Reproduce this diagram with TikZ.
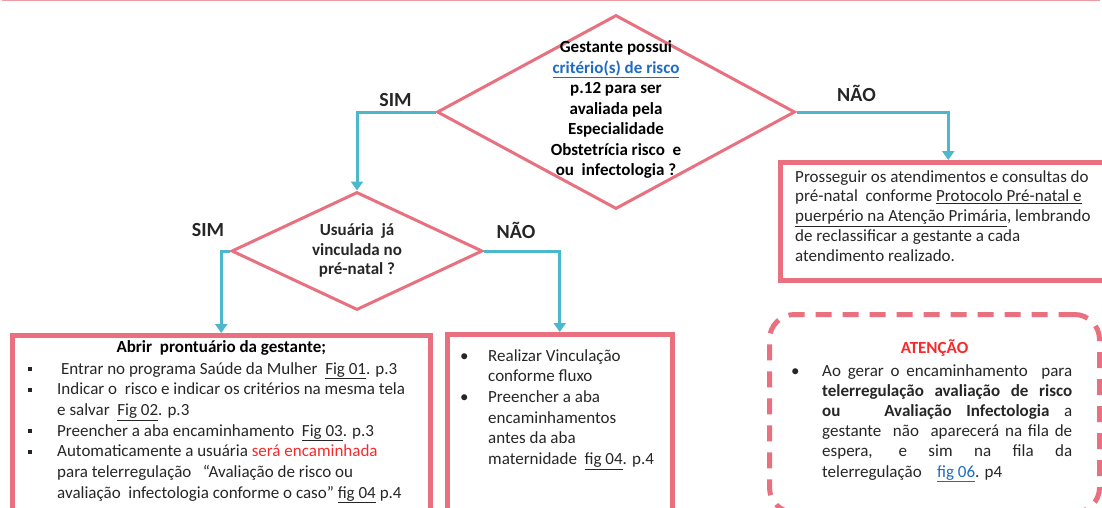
\documentclass[tikz,border=0pt]{standalone}
\usepackage{fontspec}
\setmainfont{Carlito}
\usepackage{xcolor}
\usepackage{tikz}
\usetikzlibrary{calc, shapes.geometric, arrows.meta}
\definecolor{rosa}{HTML}{E8707F}
\definecolor{ciano}{HTML}{4BB8CC}
\definecolor{vermelho}{HTML}{F52A2A}
\definecolor{azul}{HTML}{1F6BC4}
\definecolor{texto}{HTML}{262626}
\newcommand{\lnk}[1]{\textcolor{azul}{\underline{#1}}}
\newcommand{\sqb}{\raisebox{3pt}{\rule{4pt}{4pt}}}
\newcommand{\jline}[1]{\makebox[250pt][s]{#1}}
\tikzstyle{decision} = [diamond, draw=rosa, line width=3pt, inner sep=0pt]
\tikzstyle{box}      = [rectangle, draw=rosa, line width=4.5pt, inner sep=0pt, anchor=north west]
\tikzstyle{alert}    = [rectangle, draw=rosa, line width=5pt, rounded corners=25pt, dash pattern=on 16pt off 11pt, inner sep=0pt, anchor=north west]
\tikzstyle{arrow}    = [ciano, line width=3pt, -{Triangle[width=12pt,length=9pt]}]
\tikzstyle{answer}   = [font=\bfseries\fontsize{20}{24}\selectfont, text=black!85, inner sep=0pt]
\tikzstyle{question} = [font=\bfseries\fontsize{17}{20.5}\selectfont, align=flush center, text width=220pt, inner sep=0pt, anchor=base]
\tikzstyle{head}     = [font=\bfseries\fontsize{17}{20.5}\selectfont, inner sep=0pt, anchor=base]
\tikzstyle{body}     = [font=\fontsize{17}{20.7}\selectfont, text=texto, align=flush left, text width=300pt, inner sep=0pt, anchor=base west]

\begin{document}
\begin{tikzpicture}[x=1pt, y=-1pt]
    \clip (0,0) rectangle (1102,507);
    \draw [rosa!70, line width=2pt] (2,0) -- (1100,0);

    \node (crit)     [decision, minimum width=358pt, minimum height=194pt] at (616,112) {};
    \node (vinc)     [decision, minimum width=251pt, minimum height=118pt] at (357,251) {};
    \node (seguir)   [box, minimum width=336pt, minimum height=118pt] at (778,160) {};
    \node (abrir)    [box, minimum width=418pt, minimum height=190pt] at (10,333) {};
    \node (vincular) [box, minimum width=225pt, minimum height=190pt] at (445,332) {};
    \node (atencao)  [alert, minimum width=330pt, minimum height=198pt] at (767,312) {};

    \draw [arrow] (crit.west) -| (vinc.north);
    \draw [arrow] (crit.east) -| (seguir.north);
    \draw [arrow] (vinc.west) -| (abrir.north);
    \draw [arrow] (vinc.east) -| (vincular.north);

    \node (sim1) [answer] at ($(crit.west)+(-40,-12)$) {SIM};
    \node (nao1) [answer] at ($(crit.east)+(60,-19)$) {NÃO};
    \node (sim2) [answer] at ($(vinc.west)+(-22,-21)$) {SIM};
    \node (nao2) [answer] at ($(vinc.east)+(32,-21)$) {NÃO};

    \node (crittxt) [question] at ($(crit.north)+(0,39)$) {Gestante possui\\ \lnk{critério(s) de risco}\\ p.12 para ser\\ avaliada pela\\ Especialidade\\ Obstetrícia risco~ e\\ ou~ infectologia ?};
    \node (vinctxt) [question, font=\fontsize{17}{19.5}\selectfont\bfseries, text=texto] at ($(vinc.north)+(0,45)$) {Usuária~ já\\ vinculada no\\ pré-natal ?};

    \node (seguirtxt) [body, text width=315pt, font=\fontsize{17}{19.8}\selectfont] at ($(seguir.north west)+(17,22)$) {Prosseguir os atendimentos e consultas do\\ pré-natal~ conforme \underline{Protocolo Pré-natal e}\\ \underline{puerpério na Atenção Primária}, lembrando\\ de reclassificar a gestante a cada\\ atendimento realizado.};

    \node (abrirtit) [head] at ($(abrir.north)+(0,19)$) {Abrir~ prontuário da gestante;};
    \node (abrirtxt) [body, text width=405pt] at ($(abrir.north west)+(18,41)$) {\makebox[29pt][l]{\sqb}~Entrar no programa Saúde da Mulher~ \underline{Fig 01}. p.3\\ \makebox[29pt][l]{\sqb}Indicar o~ risco e indicar os critérios na mesma tela\\ \hspace*{29pt}e salvar~ \underline{Fig 02}. p.3\\ \makebox[29pt][l]{\sqb}Preencher a aba encaminhamento~ \underline{Fig 03}. p.3\\ \makebox[29pt][l]{\sqb}Automaticamente a usuária \textcolor{vermelho}{será encaminhada}\\ \hspace*{29pt}para telerregulação~~ “Avaliação de risco ou\\ \hspace*{29pt}avaliação~ infectologia conforme o caso” \underline{fig 04} p.4};

    \node (vinculartxt) [body, text width=210pt] at ($(vincular.north west)+(15,29)$) {\makebox[28pt][l]{\textbullet}Realizar Vinculação\\ \hspace*{28pt}conforme fluxo\\ \makebox[28pt][l]{\textbullet}Preencher a aba\\ \hspace*{28pt}encaminhamentos\\ \hspace*{28pt}antes da aba\\ \hspace*{28pt}maternidade~ \underline{fig 04}. p.4};

    \node (atencaotit) [head, text=vermelho] at ($(atencao.north)+(0,41)$) {ATENÇÃO};
    \node (atencaotxt) [body, text width=300pt, font=\fontsize{17}{20.2}\selectfont] at ($(atencao.north west)+(24,64)$) {\makebox[31pt][l]{\textbullet}\jline{Ao gerar o encaminhamento~ para}\\ \hspace*{31pt}\jline{\textbf{telerregulação avaliação de risco}}\\ \hspace*{31pt}\jline{\textbf{ou~~ Avaliação Infectologia} a}\\ \hspace*{31pt}\jline{gestante~ não~ aparecerá na fila de}\\ \hspace*{31pt}\jline{espera, e sim na fila da}\\ \hspace*{31pt}telerregulação~~~ \lnk{fig 06}. p4};
\end{tikzpicture}
\end{document}
